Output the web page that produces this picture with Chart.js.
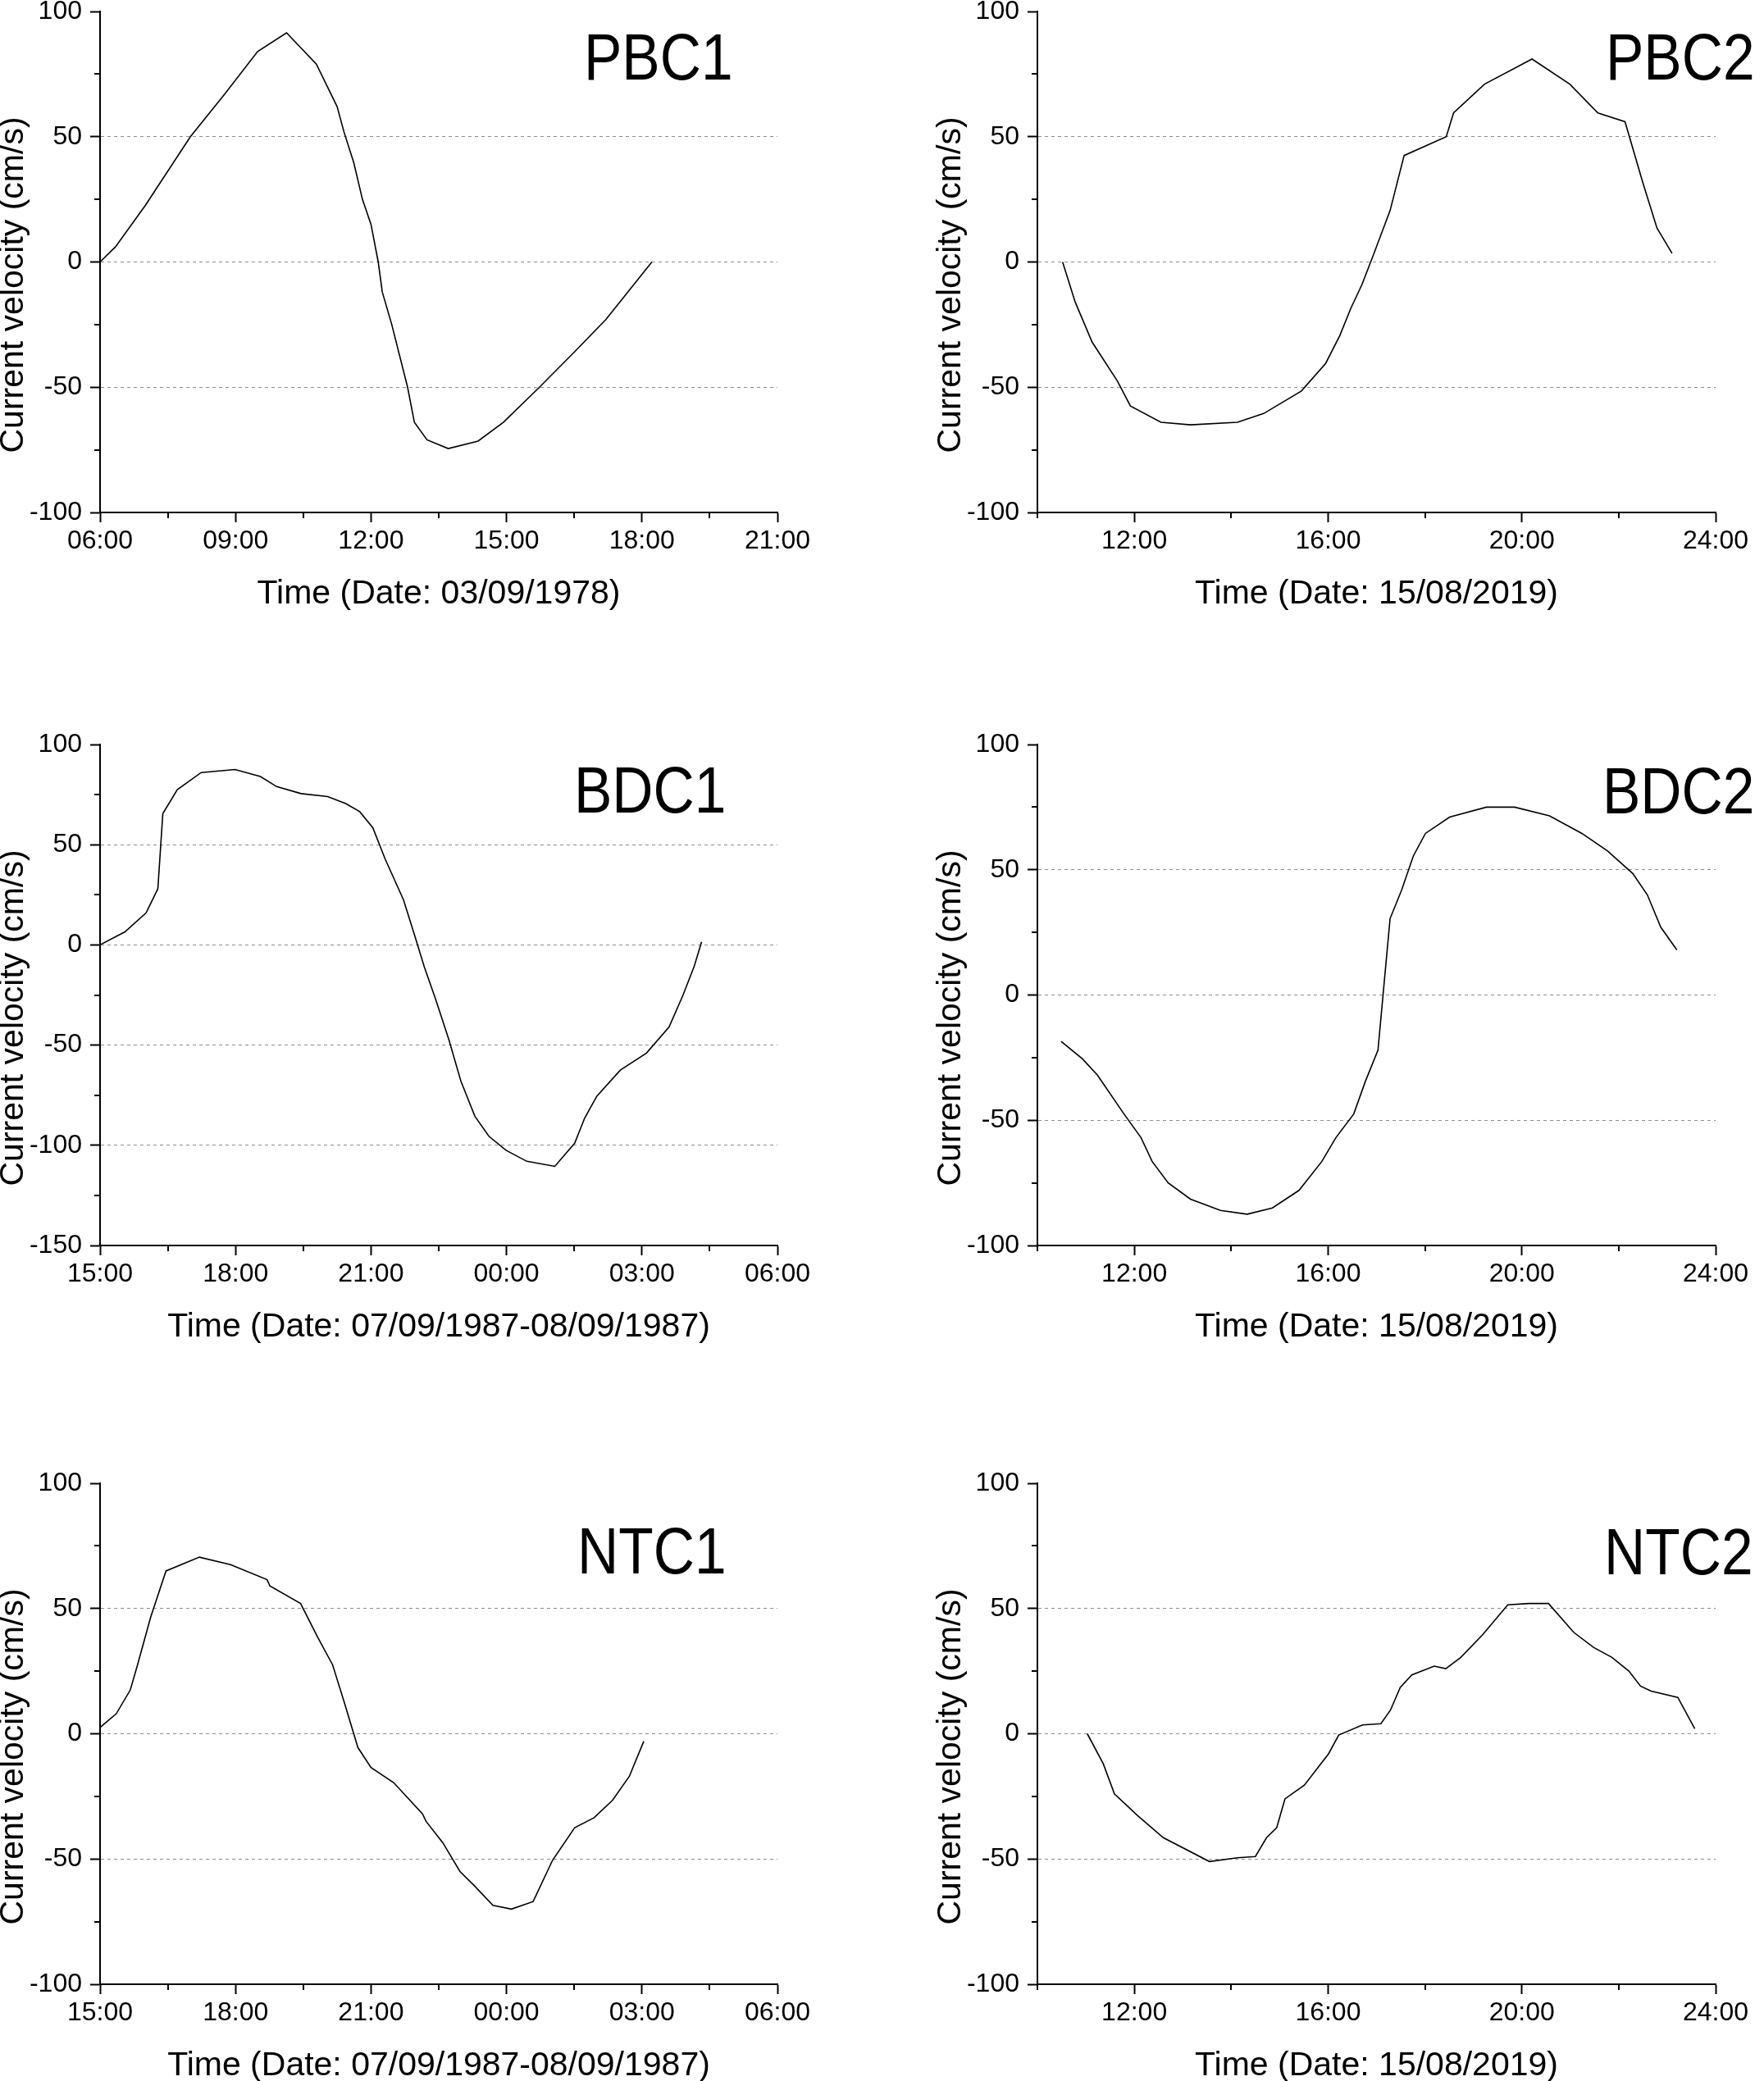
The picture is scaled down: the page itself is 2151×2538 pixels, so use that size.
<!DOCTYPE html>
<html>
<head>
<meta charset="utf-8">
<script src="https://cdn.jsdelivr.net/npm/chart.js@4.4.1/dist/chart.umd.min.js"></script>
<style>
    html, body { margin: 0; padding: 0; background: #fff; }
    body { width: 2151px; height: 2538px; position: relative; overflow: hidden; }
    .panel { position: absolute; }
</style>
</head>
<body>
<div class="panel" id="p1" style="left:0px;top:-26px;width:1075px;height:786px"><canvas id="c1"></canvas></div>
<div class="panel" id="p2" style="left:1075px;top:-26px;width:1076px;height:786px"><canvas id="c2"></canvas></div>
<div class="panel" id="p3" style="left:0px;top:868px;width:1075px;height:786px"><canvas id="c3"></canvas></div>
<div class="panel" id="p4" style="left:1075px;top:868px;width:1076px;height:786px"><canvas id="c4"></canvas></div>
<div class="panel" id="p5" style="left:0px;top:1769px;width:1075px;height:786px"><canvas id="c5"></canvas></div>
<div class="panel" id="p6" style="left:1075px;top:1769px;width:1076px;height:786px"><canvas id="c6"></canvas></div>
<script>
// horas decimales (>24 = dia siguiente) y velocidad en cm/s
const pbc1Time = [6.0, 6.34, 7.0, 8.0, 8.76, 9.49, 10.13, 10.79, 11.25, 11.4, 11.62, 11.81, 12.0, 12.16, 12.25, 12.46, 12.81, 12.96, 13.24, 13.71, 14.37, 14.93, 15.73, 16.5, 17.2, 18.22];
const pbc1Vel = [0, 6, 22.5, 50, 67, 84, 91.5, 79, 62, 52, 39.5, 25, 15, 0, -12, -25, -50, -64, -71, -74.5, -71.5, -64, -50, -36, -23, 0];

const pbc2Time = [10.52, 10.78, 11.13, 11.65, 11.92, 12.55, 13.16, 14.13, 14.67, 15.45, 15.95, 16.24, 16.47, 16.7, 16.94, 17.28, 17.57, 18.44, 18.59, 19.23, 20.21, 20.99, 21.57, 22.13, 22.5, 22.79, 23.1];
const pbc2Vel = [0, -16, -32, -47.5, -57.5, -64, -65, -64, -60.5, -51.5, -40.5, -29.5, -18.5, -9, 3, 20.5, 42.5, 50, 59.5, 71, 81, 71, 59.5, 56, 31.5, 13.5, 3.5];

const bdc1Time = [15.0, 15.55, 16.02, 16.28, 16.39, 16.71, 17.24, 17.99, 18.55, 18.91, 19.45, 20.04, 20.44, 20.75, 21.04, 21.31, 21.72, 21.97, 22.18, 22.43, 22.72, 22.99, 23.3, 23.61, 23.99, 24.45, 25.07, 25.51, 25.73, 26.0, 26.52, 27.1, 27.6, 27.91, 28.16, 28.32];
const bdc1Vel = [0, 6.5, 16, 28, 65.5, 77.5, 86, 87.5, 84, 79, 75.5, 74, 70.5, 66.5, 58.5, 43, 22.5, 4.5, -11, -27, -47, -68, -85.5, -95.5, -102.5, -108, -110.5, -99, -86.5, -75.5, -62.5, -54, -41, -25, -10.5, 1.5];

const bdc2Time = [10.49, 10.93, 11.24, 11.77, 12.14, 12.37, 12.7, 13.16, 13.78, 14.33, 14.85, 15.4, 15.87, 16.16, 16.53, 16.77, 17.03, 17.28, 17.52, 17.76, 18.01, 18.51, 19.27, 19.85, 20.57, 21.24, 21.77, 22.29, 22.59, 22.87, 23.2];
const bdc2Vel = [-18.5, -25.5, -32, -47, -57, -66.5, -75, -81.5, -86, -87.5, -85, -78, -66.5, -57, -47.5, -34.5, -22, 30.5, 42, 55.5, 64.5, 71, 75, 75, 71.5, 64.5, 57.5, 48.5, 40, 27, 18];

const ntc1Time = [15.0, 15.36, 15.67, 15.83, 16.12, 16.46, 17.2, 17.89, 18.7, 18.76, 19.44, 19.82, 20.15, 20.4, 20.71, 21.0, 21.5, 22.14, 22.22, 22.59, 22.97, 23.28, 23.7, 24.11, 24.59, 25.02, 25.51, 25.94, 26.35, 26.72, 27.04];
const ntc1Vel = [2.5, 8, 17.5, 27.5, 46.5, 65, 70.5, 67.5, 61.5, 59, 52, 38.5, 27.5, 13, -5.5, -13.5, -19.5, -32, -35, -43.5, -55, -60.5, -68.5, -70, -67, -50.5, -37.5, -33.5, -26.5, -17, -3];

const ntc2Time = [11.03, 11.36, 11.59, 12.06, 12.6, 13.55, 14.13, 14.5, 14.73, 14.94, 15.11, 15.51, 16.01, 16.22, 16.71, 17.09, 17.29, 17.49, 17.73, 18.19, 18.43, 18.74, 19.19, 19.71, 20.14, 20.55, 21.07, 21.48, 21.86, 22.21, 22.45, 22.67, 23.22, 23.57];
const ntc2Vel = [0, -12, -24, -32.5, -41.5, -51, -49.5, -49, -41.5, -37.5, -26, -20.5, -8, -0.5, 3.5, 4, 9.5, 18.5, 23.5, 27, 26, 30.5, 39.5, 51.5, 52, 52, 40.5, 34.5, 30.5, 25, 19, 17, 14.5, 2];

// marcas principales de los ejes
const xTicksA = [6, 9, 12, 15, 18, 21];
const xLabelsA = ["06:00", "09:00", "12:00", "15:00", "18:00", "21:00"];
const xTicksB = [12, 16, 20, 24];
const xLabelsB = ["12:00", "16:00", "20:00", "24:00"];
const xTicksC = [15, 18, 21, 24, 27, 30];
const xLabelsC = ["15:00", "18:00", "21:00", "00:00", "03:00", "06:00"];
const yTicksA = [-100, -50, 0, 50, 100];
const yLabelsA = ["-100", "-50", "0", "50", "100"];
const yTicksC = [-150, -100, -50, 0, 50, 100];
const yLabelsC = ["-150", "-100", "-50", "0", "50", "100"];

const xTitle78 = "Time (Date: 03/09/1978)";
const xTitle87 = "Time (Date: 07/09/1987-08/09/1987)";
const xTitle19 = "Time (Date: 15/08/2019)";
const yTitle = "Current velocity (cm/s)";

const FONT = "'Liberation Sans', Arial, sans-serif";

const paneles = [
    { id: "c1", name: "PBC1", t: pbc1Time, v: pbc1Vel, xr: [6, 21, 1.5], xt: xTicksA, xl: xLabelsA, yr: [-100, 100], yt: yTicksA, yl: yLabelsA, xTitle: xTitle78, col: 0, nx: 590, ny: 83 },
    { id: "c2", name: "PBC2", t: pbc2Time, v: pbc2Vel, xr: [10, 24, 2], xt: xTicksB, xl: xLabelsB, yr: [-100, 100], yt: yTicksA, yl: yLabelsA, xTitle: xTitle19, col: 1, nx: 693, ny: 83 },
    { id: "c3", name: "BDC1", t: bdc1Time, v: bdc1Vel, xr: [15, 30, 1.5], xt: xTicksC, xl: xLabelsC, yr: [-150, 100], yt: yTicksC, yl: yLabelsC, xTitle: xTitle87, col: 0, nx: 578, ny: 83 },
    { id: "c4", name: "BDC2", t: bdc2Time, v: bdc2Vel, xr: [10, 24, 2], xt: xTicksB, xl: xLabelsB, yr: [-100, 100], yt: yTicksA, yl: yLabelsA, xTitle: xTitle19, col: 1, nx: 689, ny: 84 },
    { id: "c5", name: "NTC1", t: ntc1Time, v: ntc1Vel, xr: [15, 30, 1.5], xt: xTicksC, xl: xLabelsC, yr: [-100, 100], yt: yTicksA, yl: yLabelsA, xTitle: xTitle87, col: 0, nx: 582, ny: 110 },
    { id: "c6", name: "NTC2", t: ntc2Time, v: ntc2Vel, xr: [10, 24, 2], xt: xTicksB, xl: xLabelsB, yr: [-100, 100], yt: yTicksA, yl: yLabelsA, xTitle: xTitle19, col: 1, nx: 691, ny: 111 }
];

// marcas menores, titulo del eje Y y nombre del panel
const extras = {
    id: "extras",
    afterDraw(chart, args, opts) {
        const ctx = chart.ctx;
        const area = chart.chartArea;
        const sx = chart.scales.x, sy = chart.scales.y;
        ctx.save();
        ctx.strokeStyle = "#000";
        ctx.lineWidth = 2;
        ctx.beginPath();
        sx.ticks.forEach((tk, i) => {
            if (opts.xt.includes(tk.value)) return;
            const px = Math.round(sx.getPixelForTick(i));
            ctx.moveTo(px, area.bottom);
            ctx.lineTo(px, area.bottom + 7);
        });
        sy.ticks.forEach((tk, i) => {
            if (opts.yt.includes(tk.value)) return;
            const py = Math.round(sy.getPixelForTick(i));
            ctx.moveTo(area.left, py);
            ctx.lineTo(area.left - 7, py);
        });
        ctx.stroke();

        ctx.fillStyle = "#000";
        ctx.font = "41px " + FONT;
        ctx.textAlign = "center";
        ctx.textBaseline = "middle";
        ctx.translate(area.left - 105, (area.top + area.bottom) / 2 + 28);
        ctx.rotate(-Math.PI / 2);
        ctx.fillText(yTitle, 0, 0);
        ctx.restore();

        ctx.save();
        ctx.fillStyle = "#000";
        ctx.font = "79px " + FONT;
        ctx.textAlign = "left";
        ctx.textBaseline = "alphabetic";
        ctx.translate(area.left + opts.nx, area.top + opts.ny);
        ctx.scale(0.88, 1);
        ctx.fillText(opts.name, 0, 0);
        ctx.restore();
    }
};

paneles.forEach(p => {
    const puntos = p.t.map((t, i) => ({ x: t, y: p.v[i] }));
    const yGrid = p.yt.filter(v => v !== p.yr[0] && v !== p.yr[1]);
    const padRight = p.col === 0 ? 127 : 59;
    const yWidth = p.col === 0 ? 122 : 190;

    new Chart(document.getElementById(p.id), {
        type: "line",
        data: {
            datasets: [{
                data: puntos,
                borderColor: "#000",
                borderWidth: 1.6,
                pointRadius: 0,
                tension: 0,
                fill: false
            }]
        },
        options: {
            responsive: true,
            maintainAspectRatio: false,
            animation: false,
            layout: { padding: { top: 40, right: padRight, bottom: 0, left: 0 } },
            plugins: {
                legend: { display: false },
                tooltip: { enabled: false },
                extras: { xt: p.xt, yt: p.yt, name: p.name, nx: p.nx, ny: p.ny }
            },
            scales: {
                x: {
                    type: "linear",
                    min: p.xr[0],
                    max: p.xr[1],
                    afterFit: s => { s.height = 135; },
                    ticks: {
                        stepSize: p.xr[2],
                        autoSkip: false,
                        maxRotation: 0,
                        maxTicksLimit: 30,
                        padding: 4,
                        color: "#000",
                        font: { family: FONT, size: 32 },
                        callback: v => {
                            const i = p.xt.indexOf(v);
                            return i >= 0 ? p.xl[i] : "";
                        }
                    },
                    grid: {
                        drawOnChartArea: false,
                        tickLength: 12,
                        tickWidth: 2,
                        tickColor: c => (c.tick && p.xt.includes(c.tick.value)) ? "#000" : "rgba(0,0,0,0)"
                    },
                    border: { color: "#000", width: 2 },
                    title: {
                        display: true,
                        text: p.xTitle,
                        color: "#000",
                        font: { family: FONT, size: 41 },
                        padding: { top: 0, bottom: 11 }
                    }
                },
                y: {
                    min: p.yr[0],
                    max: p.yr[1],
                    afterFit: s => { s.width = yWidth; },
                    ticks: {
                        stepSize: 25,
                        autoSkip: false,
                        maxTicksLimit: 30,
                        padding: 10,
                        color: "#000",
                        font: { family: FONT, size: 32 },
                        callback: v => {
                            const i = p.yt.indexOf(v);
                            return i >= 0 ? p.yl[i] : "";
                        }
                    },
                    grid: {
                        lineWidth: 1,
                        color: c => (c.tick && yGrid.includes(c.tick.value)) ? "#8c8c8c" : "rgba(0,0,0,0)",
                        tickLength: 12,
                        tickWidth: 2,
                        tickColor: c => (c.tick && p.yt.includes(c.tick.value)) ? "#000" : "rgba(0,0,0,0)"
                    },
                    border: { color: "#000", width: 2, dash: [4, 4] }
                }
            }
        },
        plugins: [extras]
    });
});
</script>
</body>
</html>
